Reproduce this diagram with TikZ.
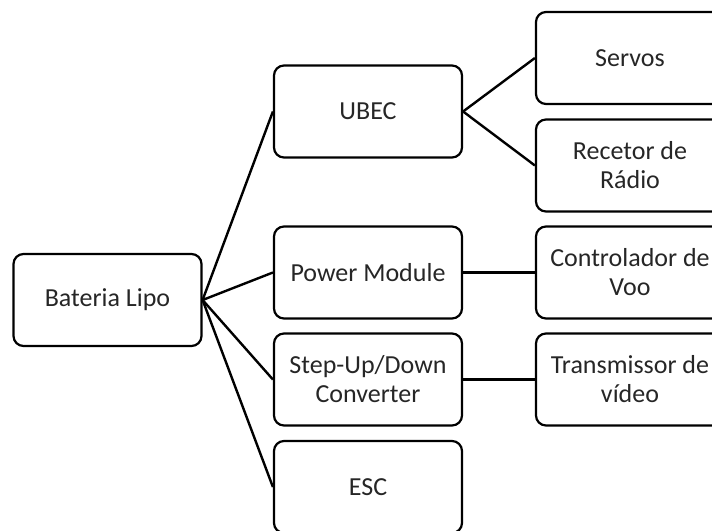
\documentclass[tikz,border=0pt]{standalone}
\usepackage{fontspec}
\setmainfont{Carlito}
\begin{document}
\begin{tikzpicture}[x=1pt,y=-1pt,
  box/.style={draw=black, line width=2.2pt, rounded corners=10pt,
    minimum width=188pt, minimum height=92pt, inner sep=2pt,
    align=center, text=black!85,
    font=\fontsize{26}{29}\selectfont},
  link/.style={draw=black, line width=2.4pt}]
  \useasboundingbox (0,0) rectangle (712,530);
  \clip (0,0) rectangle (712,530);

  % power source
  \node[box] (bat) at (107.5,300) {Bateria Lipo};

  % regulators and power stages
  \node[box] (ubec) at (368,111.5) {UBEC};
  \node[box] (pm)   at (368,272.5) {Power Module};
  \node[box] (step) at (368,379.5) {Step-Up/Down\\Converter};
  \node[box] (esc)  at (368,487)   {ESC};

  % loads
  \node[box] (servos) at (630,58)    {Servos};
  \node[box] (radio)  at (630,165.5) {Recetor de\\Rádio};
  \node[box] (fc)     at (630,272.5) {Controlador de\\Voo};
  \node[box] (vtx)    at (630,379.5) {Transmissor de\\vídeo};

  % wiring
  \draw[link] (bat.east) -- (ubec.west);
  \draw[link] (bat.east) -- (pm.west);
  \draw[link] (bat.east) -- (step.west);
  \draw[link] (bat.east) -- (esc.west);
  \draw[link] (ubec.east) -- (servos.west);
  \draw[link] (ubec.east) -- (radio.west);
  \draw[link] (pm.east) -- (fc.west);
  \draw[link] (step.east) -- (vtx.west);
\end{tikzpicture}
\end{document}
